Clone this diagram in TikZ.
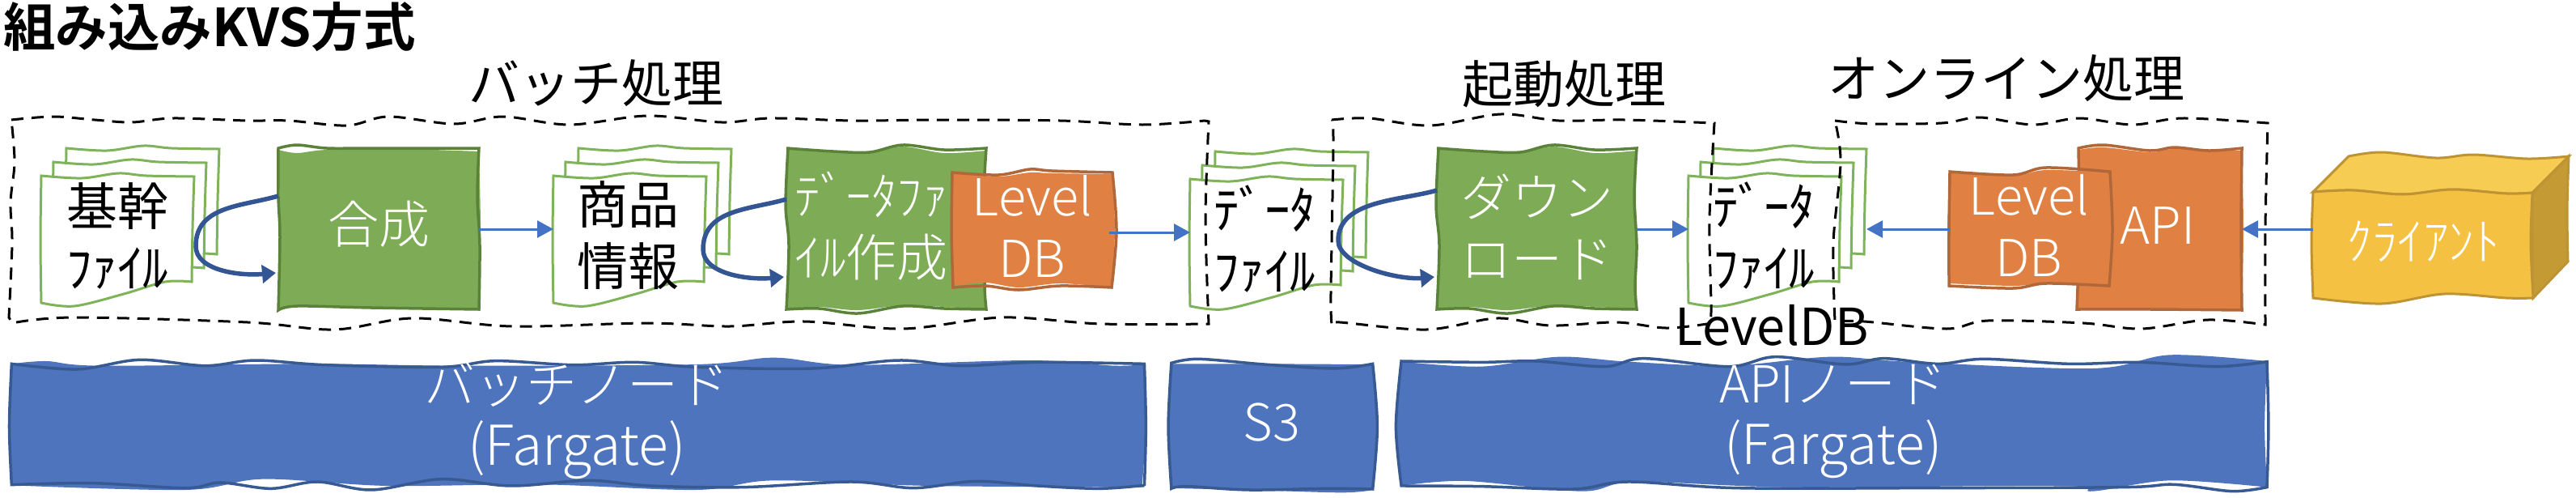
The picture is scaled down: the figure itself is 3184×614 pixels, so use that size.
\documentclass[tikz,border=0pt]{standalone}
\usepackage{fontspec}
\setmainfont{Noto Sans CJK JP}[UprightFont=* Light,BoldFont=* Bold]
\newfontfamily\jpreg{Noto Sans CJK JP}
\usetikzlibrary{arrows.meta,calc}
\definecolor{grF}{HTML}{7EAC56}
\definecolor{grS}{HTML}{5A8238}
\definecolor{shS}{HTML}{7FB35A}
\definecolor{orF}{HTML}{E08143}
\definecolor{orS}{HTML}{B0673A}
\definecolor{blF}{HTML}{4E74BE}
\definecolor{blS}{HTML}{385A92}
\definecolor{arr}{HTML}{4472C4}
\definecolor{arrD}{HTML}{335593}
\definecolor{yeF}{HTML}{F5C142}
\definecolor{yeT}{HTML}{F7CC52}
\definecolor{yeR}{HTML}{C49A34}
\definecolor{yeS}{HTML}{BE9334}
\newcommand\skpath[5]{\path[#1] plot[smooth,tension=.55] coordinates{#2} -- plot[smooth,tension=.55] coordinates{#3} -- plot[smooth,tension=.55] coordinates{#4} -- plot[smooth,tension=.55] coordinates{#5} -- cycle;}
\newcommand\sheet{\skpath{sheetline}{(0,0)(50,3)(95,-3)(130,0)(189,1)}{(189,1)(187,65)(186,131)}{(186,131)(153,131)(102,146)(41,161)(0,157)}{(0,157)(-1,80)(0,0)}}
\newcommand\docstack[3]{%
 \begin{scope}[shift={(#2pt+31pt,-#3pt+34pt)}]\sheet\end{scope}
 \begin{scope}[shift={(#2pt+15pt,-#3pt+17pt)}]\sheet\end{scope}
 \begin{scope}[shift={(#2pt,-#3pt)}]\sheet\end{scope}
 \node[anchornode,minimum width=220pt,minimum height=160pt] (#1) at (#2+110,#3+66) {};}
\newcommand\greenwave[2]{%
 \begin{scope}[shift={(#1pt,-#2pt)}]
 \skpath{fill=grF}{(0,0)(58,5)(103,6)(144,-2)(195,6)(247,3)}{(247,3)(246,60)(247,120)(245,170)(247,199)}{(247,199)(195,196)(144,194)(88,200)(40,196)(0,198)}{(0,198)(3,120)(-1,70)(2,0)}
 \skpath{draw=grS,line width=3.5pt}{(0,0)(58,4)(103,5)(144,-4)(195,2)(247,0)}{(247,0)(244,60)(247,120)(245,170)(247,199)}{(247,199)(195,198)(144,195)(88,204)(40,198)(0,199)}{(0,199)(3,120)(-1,70)(2,0)}
 \end{scope}}
\newcommand\loopconn[4]{%
 \coordinate (s#1) at ([yshift=#2pt]#1.west);
 \coordinate (e#1) at ([yshift=-#3pt,xshift=-3pt]#1.west);
 \draw[loopc] (s#1) .. controls ($(s#1)+(-45,13)$) and ($(s#1)+(-#4,12)$) .. ($(s#1)+(-#4,62)$) .. controls ($(s#1)+(-#4,92)$) and ($(e#1)+(-45,4)$) .. (e#1);}
\newcommand\biglatin[1]{{\fontsize{68}{76}\selectfont #1}}
\tikzset{
 sheetline/.style={fill=white,draw=shS,line width=3pt,line join=miter},
 anchornode/.style={inner sep=0pt,outer sep=0pt,draw=none},
 lbl/.style={inner sep=0pt,outer sep=0pt,align=center,font=\fontsize{63}{76}\selectfont\jpreg},
 wlbl/.style={inner sep=0pt,outer sep=0pt,align=center,font=\fontsize{63}{76}\selectfont,text=white},
 thinarrow/.style={draw=arr,line width=3pt,-{Triangle[length=20pt,width=21pt]}},
 loopc/.style={draw=arrD,line width=5.5pt,-{Triangle[length=17pt,width=22pt]}},
 dashbox/.style={draw=black,line width=3pt,dash pattern=on 15pt off 10pt},
 barS/.style={draw=blS,line width=3.5pt},
}
\begin{document}
\begin{tikzpicture}[x=1pt,y=-1pt]
\useasboundingbox (0,0) rectangle (3184,614);
% title
\node[inner sep=0pt,anchor=west,font=\fontsize{64.5}{65}\selectfont\bfseries] (title) at (4,33) {組み込みKVS方式};
% blue bars
\begin{scope}[x=0.957pt,y=-0.3333pt,shift={(0pt,-410pt)}]
\skpath{fill=blF}{(15,118)(60,108)(130,125)(400,118)(600,125)(900,120)(1000,95)(1100,122)(1330,105)(1440,125)(1478,118)}{(1478,118)(1480,350)(1475,570)}{(1478,575)(1200,570)(1000,550)(900,585)(700,565)(500,570)(340,545)(240,585)(15,568)}{(15,568)(12,350)(15,118)}
\skpath{barS}{(15,118)(100,138)(180,103)(265,125)(330,105)(420,122)(570,130)(640,107)(740,122)(820,112)(900,130)(1050,135)(1160,105)(1240,125)(1340,112)(1478,118)}{(1478,118)(1480,350)(1478,570)}{(1478,568)(1420,580)(1340,570)(1260,553)(1180,578)(1100,555)(960,575)(840,570)(760,550)(660,570)(570,545)(480,585)(410,555)(350,580)(285,558)(240,578)(120,560)(15,566)}{(15,566)(12,350)(15,118)}
\end{scope}
\begin{scope}[x=0.957pt,y=-0.3333pt,shift={(1400pt,-410pt)}]
\skpath{fill=blF}{(50,118)(170,118)(300,120)}{(310,120)(316,350)(310,580)}{(310,585)(270,595)(150,585)(70,580)(50,578)}{(50,578)(46,350)(50,118)}
\skpath{barS}{(50,115)(85,100)(170,120)(260,135)(310,118)}{(310,118)(316,350)(310,582)}{(310,582)(250,580)(150,585)(70,572)(50,580)}{(50,580)(46,350)(50,115)}
\skpath{fill=blF}{(347,110)(450,128)(550,92)(640,110)(770,125)(900,92)(1000,110)(1240,135)(1340,85)(1465,108)}{(1465,108)(1462,350)(1465,575)}{(1465,575)(1340,550)(1240,590)(1200,570)(850,575)(650,555)(580,590)(430,552)(347,570)}{(347,570)(340,350)(347,110)}
\skpath{barS}{(347,108)(450,112)(520,108)(610,128)(660,98)(770,128)(830,92)(920,120)(970,98)(1040,118)(1100,100)(1210,118)(1300,112)(1400,128)(1465,110)}{(1465,110)(1467,350)(1465,575)}{(1465,575)(1420,590)(1345,565)(1280,575)(1020,578)(780,578)(640,555)(570,582)(450,572)(347,570)}{(347,570)(340,350)(347,108)}
\end{scope}
\node[anchornode,minimum width=1400pt,minimum height=150pt] (batchbar) at (714,525) {};
\node[anchornode,minimum width=250pt,minimum height=150pt] (s3bar) at (1572,525) {};
\node[anchornode,minimum width=1070pt,minimum height=150pt] (apibar) at (2266,525) {};
% document stacks
\docstack{d1}{51}{217}
\docstack{d2}{684}{217}
\docstack{d3}{1471}{221}
\docstack{d4}{2087}{217}
% green boxes
\begin{scope}[shift={(344pt,-183pt)}]
\skpath{fill=grF}{(0,2)(23,6)(60,2)(150,1)(248,4)}{(248,4)(250,100)(248,199)}{(248,199)(115,196)(23,195)(0,199)}{(0,199)(2,100)(0,2)}
\skpath{draw=grS,line width=3.5pt}{(0,0)(23,-4)(60,0)(115,0)(248,0)}{(248,0)(246,60)(249,120)(248,199)}{(248,199)(115,197)(23,195)(0,200)}{(0,200)(2,110)(0,60)(0,0)}
\end{scope}
\node[anchornode,minimum width=248pt,minimum height=200pt] (g1) at (468,283) {};
\greenwave{972}{183}
\node[anchornode,minimum width=247pt,minimum height=200pt] (g2) at (1095.5,283) {};
\greenwave{1776}{183}
\node[anchornode,minimum width=247pt,minimum height=200pt] (g3) at (1899.5,283) {};
% orange boxes
\skpath{fill=orF}{(1177,214)(1234,218)(1273,213)(1300,214)(1375,215)}{(1375,215)(1378,285)(1374,355)}{(1374,355)(1310,350)(1259,355)(1218,349)(1178,353)}{(1178,353)(1175,285)(1177,214)}
\skpath{draw=orS,line width=3.5pt}{(1177,213)(1234,216)(1273,209)(1300,211)(1375,213)}{(1375,213)(1380,285)(1374,355)}{(1374,355)(1310,353)(1259,358)(1218,353)(1178,355)}{(1178,355)(1176,285)(1177,213)}
\node[anchornode,minimum width=194pt,minimum height=142pt] (o1) at (1274,287) {};
\skpath{fill=orF}{(2569,185)(2600,182)(2657,188)(2688,184)(2771,186)}{(2771,186)(2773,285)(2771,383)}{(2771,383)(2660,382)(2567,382)}{(2567,382)(2570,285)(2569,185)}
\skpath{draw=orS,line width=3.5pt}{(2569,183)(2600,179)(2657,186)(2688,182)(2730,186)(2771,183)}{(2771,183)(2770,285)(2771,383)}{(2771,383)(2660,382)(2567,382)}{(2567,382)(2570,285)(2569,183)}
\node[anchornode,minimum width=204pt,minimum height=200pt] (api) at (2669,283) {};
\skpath{fill=orF}{(2410,213)(2488,217)(2529,210)(2608,213)}{(2608,213)(2610,285)(2607,353)}{(2607,353)(2529,350)(2488,353)(2409,350)}{(2409,350)(2407,285)(2410,213)}
\skpath{draw=orS,line width=3.5pt}{(2410,212)(2488,216)(2529,207)(2608,212)}{(2608,212)(2611,285)(2607,353)}{(2607,353)(2529,350)(2488,356)(2409,353)}{(2409,353)(2409,285)(2410,212)}
\node[anchornode,minimum width=198pt,minimum height=142pt] (o2) at (2509,283) {};
% client cube
\skpath{fill=yeR,draw=yeS,line width=3pt}{(3130,238)(3175,193)}{(3175,193)(3173,260)(3174,323)}{(3174,323)(3131,368)}{(3131,368)(3130,300)(3130,238)}
\skpath{fill=yeT,draw=yeS,line width=3pt}{(2903,193)(2944,188)(3011,195)(3057,191)(3124,196)(3175,193)}{(3175,193)(3130,238)}{(3130,238)(3098,239)(3031,234)(2970,240)(2908,235)(2859,237)}{(2859,237)(2903,193)}
\skpath{fill=yeF,draw=yeS,line width=3pt}{(2859,237)(2908,235)(2970,240)(3031,234)(3098,239)(3130,238)}{(3130,238)(3128,300)(3131,368)}{(3131,368)(3098,368)(3021,363)(2944,375)(2859,368)}{(2859,368)(2857,300)(2859,237)}
\node[anchornode,minimum width=272pt,minimum height=130pt] (client) at (2995,283) {};
% connectors
\draw[thinarrow] (g1.east) -- (d2.west);
\draw[thinarrow] (o1.east) -- (d3.west);
\draw[thinarrow] (g3.east) -- (d4.west);
\draw[thinarrow] (o2.west) -- (d4.east);
\draw[thinarrow] (client.west) -- (api.east);
\loopconn{g1}{41}{54}{102}
\loopconn{g2}{37}{59}{103}
\loopconn{g3}{48}{59}{122}
% dashed groups
\skpath{dashbox}{(14,148)(66,144)(117,148)(163,151)(214,146)(306,149)(357,149)(429,155)(480,144)(561,153)(622,144)(704,154)(800,143)(892,151)(953,146)(1055,149)(1157,148)(1310,149)(1412,154)(1489,149)}{(1494,150)(1490,270)(1494,400)}{(1494,400)(1361,400)(1239,392)(1116,406)(994,397)(902,403)(800,399)(633,403)(510,393)(413,407)(306,398)(92,392)(15,399)}{(11,392)(15,300)(13,250)(18,200)(14,148)}
\skpath{dashbox}{(1646,148)(1692,146)(1768,155)(1855,141)(1927,149)(2008,148)(2118,152)}{(2119,152)(2113,270)(2115,377)(2114,400)}{(2110,400)(2059,405)(1998,398)(1916,402)(1850,393)(1763,407)(1656,398)(1646,400)}{(1646,400)(1645,360)(1648,177)(1646,148)}
\skpath{dashbox}{(2268,149)(2314,153)(2400,152)(2447,145)(2513,154)(2570,146)(2636,154)(2698,146)(2803,152)}{(2803,152)(2800,280)(2800,400)}{(2800,401)(2729,395)(2647,406)(2575,399)(2457,396)(2406,406)(2304,397)(2268,397)}{(2268,397)(2266,300)(2275,200)(2268,149)}
% labels
\node[lbl] (hBatch) at (737,103) {バッチ処理};
\node[lbl] (hBoot) at (1933,104) {起動処理};
\node[lbl] (hOnline) at (2480,97) {オンライン処理};
\node[lbl] (t1) at (145,291) {基幹\\ﾌｧｲﾙ};
\node[lbl] (t2) at (776,291) {商品\\情報};
\node[lbl] (t3) at (1563,295) {ﾃﾞｰﾀ\\ﾌｧｲﾙ};
\node[lbl] (t4) at (2180,291) {ﾃﾞｰﾀ\\ﾌｧｲﾙ};
\node[wlbl] (t5) at (468,277) {合成};
\node[wlbl] (t6) at (1077,279) {ﾃﾞｰﾀﾌｧ\\ｲﾙ作成};
\node[wlbl] (t7) at (1276,279) {Level\\DB};
\node[wlbl] (t8) at (1900,280) {ダウン\\ロード};
\node[wlbl] (t9) at (2508,278) {Level\\DB};
\node[wlbl] (t10) at (2667,279) {API};
\node[wlbl] (t11) at (2995,298) {ｸﾗｲｱﾝﾄ};
\node[wlbl] (t12) at (713,520) {バッチノード\\\biglatin{(Fargate)}};
\node[wlbl] (t13) at (1572,522) {S3};
\node[wlbl] (t14) at (2266,520) {APIノード\\\biglatin{(Fargate)}};
\node[lbl] (t15) at (2190,402) {LevelDB};
\end{tikzpicture}
\end{document}
